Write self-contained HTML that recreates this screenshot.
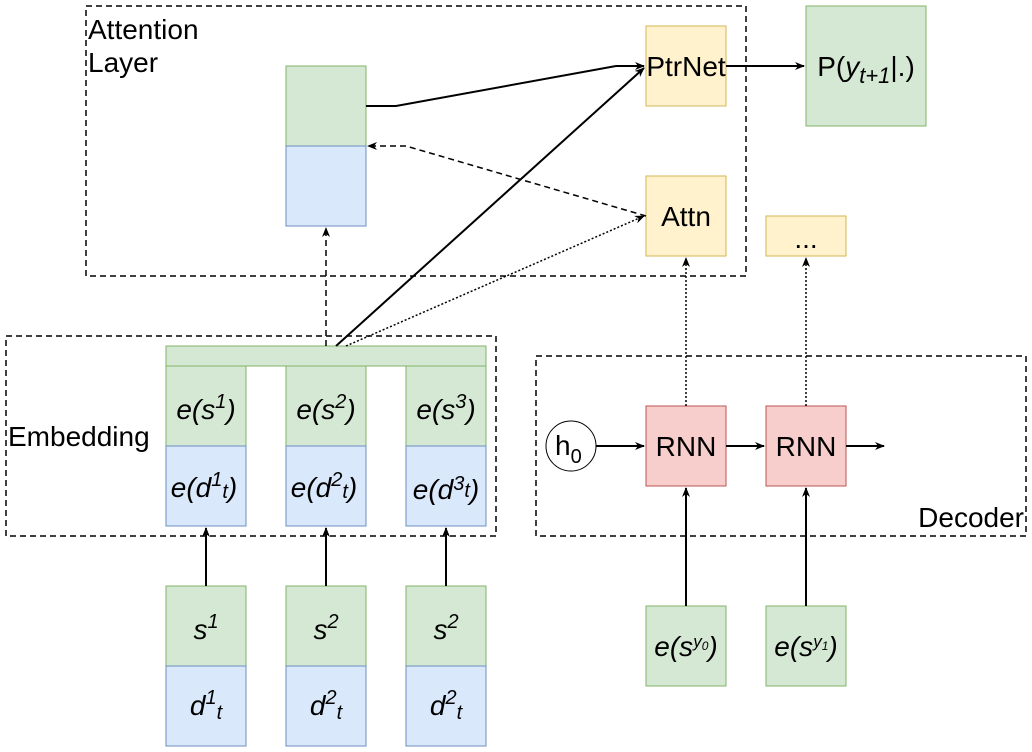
<!DOCTYPE html>
<html><head><style>body{margin:0;background:#fff}svg{display:block}text{font-family:"Liberation Sans",sans-serif;fill:#000}</style></head><body>
<svg width="1032" height="752" viewBox="0 0 1032 752" xmlns="http://www.w3.org/2000/svg">
<defs><marker id="a" markerWidth="10" markerHeight="8" refX="9" refY="4" orient="auto" markerUnits="userSpaceOnUse"><path d="M0,0 L10,4 L0,8 L3,4 Z" fill="#000"/></marker></defs>
<g fill="none" stroke="#000" stroke-width="1.5" stroke-dasharray="6,4">
<rect x="86" y="6" width="660" height="270"/>
<rect x="6" y="336" width="490" height="200"/>
<rect x="536" y="356" width="490" height="180"/>
</g>
<g stroke-width="1">
<rect x="286" y="66" width="80" height="80" fill="#d5e8d4" stroke="#82b366"/>
<rect x="286" y="146" width="80" height="80" fill="#dae8fc" stroke="#6c8ebf"/>
<rect x="646" y="26" width="80" height="80" fill="#fff2cc" stroke="#d6b656"/>
<rect x="806" y="6" width="120" height="120" fill="#d5e8d4" stroke="#82b366"/>
<rect x="646" y="176" width="80" height="80" fill="#fff2cc" stroke="#d6b656"/>
<rect x="766" y="216" width="80" height="40" fill="#fff2cc" stroke="#d6b656"/>
<rect x="166" y="346" width="320" height="20" fill="#d5e8d4" stroke="#82b366"/>
<rect x="166" y="366" width="80" height="80" fill="#d5e8d4" stroke="#82b366"/>
<rect x="286" y="366" width="80" height="80" fill="#d5e8d4" stroke="#82b366"/>
<rect x="406" y="366" width="80" height="80" fill="#d5e8d4" stroke="#82b366"/>
<rect x="166" y="446" width="80" height="80" fill="#dae8fc" stroke="#6c8ebf"/>
<rect x="286" y="446" width="80" height="80" fill="#dae8fc" stroke="#6c8ebf"/>
<rect x="406" y="446" width="80" height="80" fill="#dae8fc" stroke="#6c8ebf"/>
<rect x="166" y="586" width="80" height="80" fill="#d5e8d4" stroke="#82b366"/>
<rect x="286" y="586" width="80" height="80" fill="#d5e8d4" stroke="#82b366"/>
<rect x="406" y="586" width="80" height="80" fill="#d5e8d4" stroke="#82b366"/>
<rect x="166" y="666" width="80" height="80" fill="#dae8fc" stroke="#6c8ebf"/>
<rect x="286" y="666" width="80" height="80" fill="#dae8fc" stroke="#6c8ebf"/>
<rect x="406" y="666" width="80" height="80" fill="#dae8fc" stroke="#6c8ebf"/>
<rect x="646" y="406" width="80" height="80" fill="#f8cecc" stroke="#b85450"/>
<rect x="766" y="406" width="80" height="80" fill="#f8cecc" stroke="#b85450"/>
<rect x="646" y="606" width="80" height="80" fill="#d5e8d4" stroke="#82b366"/>
<rect x="766" y="606" width="80" height="80" fill="#d5e8d4" stroke="#82b366"/>
<circle cx="571" cy="446" r="25" fill="#fff" stroke="#000"/>
</g>
<g fill="none" stroke="#000" stroke-width="2">
<path d="M366,106 L396,106 L616,66 L644,66" marker-end="url(#a)"/>
<path d="M336,346 L644,68" marker-end="url(#a)"/>
<path d="M726,66 L804,66" marker-end="url(#a)"/>
<path d="M206,586 L206,528" marker-end="url(#a)"/>
<path d="M326,586 L326,528" marker-end="url(#a)"/>
<path d="M446,586 L446,528" marker-end="url(#a)"/>
<path d="M596,446 L644,446" marker-end="url(#a)"/>
<path d="M726,446 L764,446" marker-end="url(#a)"/>
<path d="M846,446 L884,446" marker-end="url(#a)"/>
<path d="M686,606 L686,488" marker-end="url(#a)"/>
<path d="M806,606 L806,488" marker-end="url(#a)"/>
</g>
<g fill="none" stroke="#000" stroke-width="1.5" stroke-dasharray="6,4">
<path d="M326,346 L326,228" marker-end="url(#a)"/>
<path d="M646,216 L406,146 L368,146" marker-end="url(#a)"/>
</g>
<g fill="none" stroke="#000" stroke-width="1.5" stroke-dasharray="2,2">
<path d="M346,346 L644,216" marker-end="url(#a)"/>
<path d="M686,406 L686,258" marker-end="url(#a)"/>
<path d="M806,406 L806,258" marker-end="url(#a)"/>
</g>
<g font-size="28">
<text x="88" y="39">Attention</text><text x="88" y="72">Layer</text>
<text x="8" y="446">Embedding</text>
<text x="1024" y="527" text-anchor="end">Decoder</text>
<text x="686" y="76" text-anchor="middle">PtrNet</text>
<text x="686" y="226" text-anchor="middle">Attn</text>
<text x="806" y="248" text-anchor="middle">...</text>
<text x="866" y="76" text-anchor="middle">P(<tspan font-style="italic">y<tspan font-size="22" dy="7">t+1</tspan></tspan><tspan dy="-7">|.)</tspan></text>
<text x="686" y="456" text-anchor="middle">RNN</text>
<text x="806" y="456" text-anchor="middle">RNN</text>
<text x="555" y="455">h<tspan font-size="20" dy="8">0</tspan></text>
</g>
<g font-size="28" font-style="italic" text-anchor="middle">
<text x="206" y="419">e(s<tspan font-size="20" dy="-11">1</tspan><tspan dy="11">)</tspan></text>
<text x="326" y="419">e(s<tspan font-size="20" dy="-11">2</tspan><tspan dy="11">)</tspan></text>
<text x="446" y="419">e(s<tspan font-size="20" dy="-11">3</tspan><tspan dy="11">)</tspan></text>
<text x="204" y="497">e(d<tspan font-size="20" dy="-11">1</tspan><tspan font-size="20" dy="12">t</tspan><tspan dy="-1">)</tspan></text>
<text x="324" y="497">e(d<tspan font-size="20" dy="-11">2</tspan><tspan font-size="20" dy="12">t</tspan><tspan dy="-1">)</tspan></text>
<text x="446" y="499">e(d<tspan font-size="20" dy="-9">3</tspan><tspan font-size="20" dy="7">t</tspan><tspan dy="2">)</tspan></text>
<text x="206" y="639">s<tspan font-size="20" dy="-11">1</tspan></text>
<text x="326" y="639">s<tspan font-size="20" dy="-11">2</tspan></text>
<text x="446" y="639">s<tspan font-size="20" dy="-11">2</tspan></text>
<text x="206" y="715">d<tspan font-size="20" dy="-11">1</tspan><tspan font-size="20" dy="15">t</tspan></text>
<text x="326" y="715">d<tspan font-size="20" dy="-11">2</tspan><tspan font-size="20" dy="15">t</tspan></text>
<text x="446" y="715">d<tspan font-size="20" dy="-11">2</tspan><tspan font-size="20" dy="15">t</tspan></text>
<text x="686" y="656">e(s<tspan font-size="17" dy="-9">y</tspan><tspan font-size="12" dy="3">0</tspan><tspan dy="6">)</tspan></text>
<text x="806" y="656">e(s<tspan font-size="17" dy="-9">y</tspan><tspan font-size="12" dy="3">1</tspan><tspan dy="6">)</tspan></text>
</g>
</svg>
</body></html>
